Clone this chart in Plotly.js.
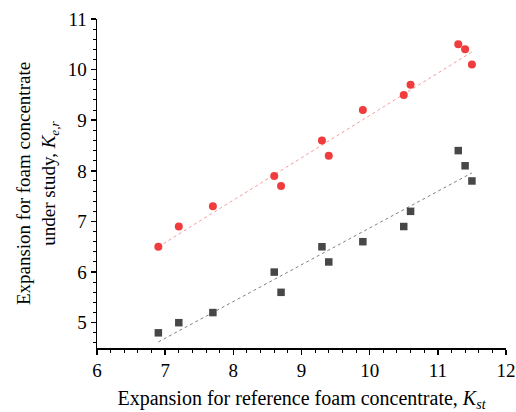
<!DOCTYPE html>
<html>
<head>
<meta charset="utf-8">
<script src="https://cdn.plot.ly/plotly-3.0.1.min.js"></script>
<style>html,body{margin:0;padding:0;background:#fff;}#chart{width:516px;height:412px;}</style>
</head>
<body>
<div id="chart"></div>
<script>
// Reference foam expansion (x) and foam under study expansion (y)
const kst = [6.9, 7.2, 7.7, 8.6, 8.7, 9.3, 9.4, 9.9, 10.5, 10.6, 11.3, 11.4, 11.5];
const redSeries = [6.5, 6.9, 7.3, 7.9, 7.7, 8.6, 8.3, 9.2, 9.5, 9.7, 10.5, 10.4, 10.1];
const blackSeries = [4.8, 5.0, 5.2, 6.0, 5.6, 6.5, 6.2, 6.6, 6.9, 7.2, 8.4, 8.1, 7.8];
// Trend-line endpoints
const fitX = [6.9, 11.5];
const redFit = [6.5, 10.35];
const blackFit = [4.62, 7.96];
const xTicks = [6, 7, 8, 9, 10, 11, 12];
const yTicks = [5, 6, 7, 8, 9, 10, 11];

const serif = "Liberation Serif, Times New Roman, serif";

const traces = [
  {x: fitX, y: redFit, mode: 'lines', line: {color: '#f49a9a', width: 1, dash: 'dot'}, hoverinfo: 'skip'},
  {x: fitX, y: blackFit, mode: 'lines', line: {color: '#808080', width: 1, dash: 'dot'}, hoverinfo: 'skip'},
  {x: kst, y: redSeries, mode: 'markers', marker: {symbol: 'circle', size: 8, color: '#f03c3c'}},
  {x: kst, y: blackSeries, mode: 'markers', marker: {symbol: 'square', size: 7.5, color: '#474747'}}
];

const layout = {
  width: 516, height: 412,
  margin: {l: 97, r: 10, t: 19, b: 64},
  paper_bgcolor: '#fff', plot_bgcolor: '#fff',
  showlegend: false,
  font: {family: serif, color: '#000'},
  xaxis: {
    range: [6, 12], tickvals: xTicks, ticktext: xTicks.map(String),
    showgrid: false, zeroline: false, showline: true, linecolor: '#000', linewidth: 1.5,
    ticks: 'outside', ticklen: 5, tickwidth: 1.5, tickcolor: '#000',
    minor: {dtick: 0.2, ticks: 'outside', ticklen: 3, tickwidth: 1, tickcolor: '#000'},
    tickfont: {family: serif, size: 19, color: '#000'},
    title: {text: 'Expansion for reference foam concentrate, <i>K</i><sub><i>st</i></sub>', font: {family: serif, size: 20, color: '#000'}, standoff: 10}
  },
  yaxis: {
    range: [4.5, 11], tickvals: yTicks, ticktext: yTicks.map(String),
    showgrid: false, zeroline: false, showline: true, linecolor: '#000', linewidth: 1.5,
    ticks: 'outside', ticklen: 5, tickwidth: 1.5, tickcolor: '#000',
    minor: {dtick: 0.2, ticks: 'outside', ticklen: 3, tickwidth: 1, tickcolor: '#000'},
    tickfont: {family: serif, size: 19, color: '#000'},
    title: {text: 'Expansion for foam concentrate<br>under study, <i>K</i><sub><i>e,r</i></sub>', font: {family: serif, size: 19, color: '#000'}, standoff: 7}
  }
};

Plotly.newPlot('chart', traces, layout, {displayModeBar: false, staticPlot: true});
</script>
</body>
</html>
